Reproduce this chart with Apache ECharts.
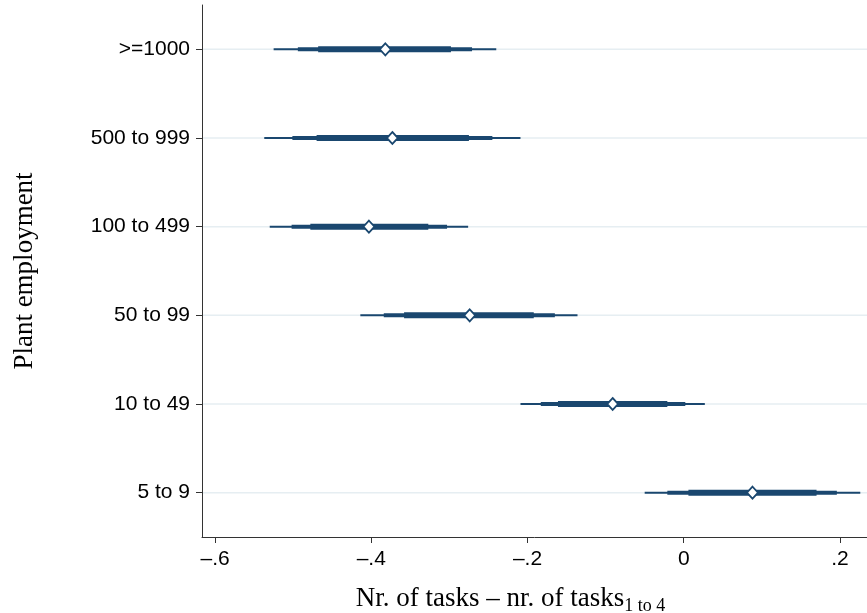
<!DOCTYPE html>
<html><head><meta charset="utf-8">
<script src="https://cdn.jsdelivr.net/npm/echarts@6/dist/echarts.min.js"></script>
<style>html,body{margin:0;padding:0;background:#fff}#c{width:867px;height:613px}</style>
</head><body><div id="c"></div>
<script>
// Categories, top to bottom
const categories = ['>=1000', '500 to 999', '100 to 499', '50 to 99', '10 to 49', '5 to 9'];
// Point estimates
const estimates = [-0.382, -0.373, -0.403, -0.274, -0.091, 0.088];
// Outer (thin) interval
const lo99 = [-0.525, -0.537, -0.530, -0.414, -0.209, -0.050];
const hi99 = [-0.240, -0.209, -0.276, -0.136, 0.027, 0.226];
// Middle interval
const lo95 = [-0.494, -0.501, -0.502, -0.384, -0.183, -0.021];
const hi95 = [-0.271, -0.245, -0.303, -0.165, 0.002, 0.196];
// Inner (thick) interval
const lo90 = [-0.468, -0.470, -0.478, -0.358, -0.161, 0.006];
const hi90 = [-0.298, -0.275, -0.327, -0.192, -0.021, 0.170];
// X tick values and labels
const xTicks = [-0.6, -0.4, -0.2, 0, 0.2];
const xTickLabels = ['–.6', '–.4', '–.2', '0', '.2'];

const NAVY = '#1a476f';
const AXIS = '#333333';

function rangeSeries(lo, hi, w, z) {
  return {
    type: 'custom',
    z: z,
    data: categories.map((c, i) => [lo[i], hi[i], i]),
    encode: { x: [0, 1], y: 2 },
    renderItem: function (params, api) {
      const a = api.coord([api.value(0), api.value(2)]);
      const b = api.coord([api.value(1), api.value(2)]);
      return { type: 'line', shape: { x1: a[0], y1: a[1], x2: b[0], y2: b[1] },
               style: { stroke: NAVY, lineWidth: w, lineCap: 'butt' } };
    }
  };
}

const gridSeries = {
  type: 'custom',
  z: 1,
  data: categories.map((c, i) => [0, i]),
  encode: { x: 0, y: 1 },
  renderItem: function (params, api) {
    const p = api.coord([api.value(0), api.value(1)]);
    const cs = params.coordSys;
    return { type: 'line', shape: { x1: cs.x + 1, y1: p[1], x2: cs.x + cs.width, y2: p[1] },
             style: { stroke: '#e6eef2', lineWidth: 1.5 } };
  }
};

const chart = echarts.init(document.getElementById('c'), null, { renderer: 'canvas' });
chart.setOption({
  animation: false,
  backgroundColor: '#ffffff',
  grid: { left: 202, right: 0, top: 5, bottom: 76, containLabel: false, outerBoundsMode: 'none' },
  xAxis: {
    type: 'value',
    min: -0.6167,
    max: 0.2346,
    splitLine: { show: false },
    axisLine: { show: true, onZero: false, lineStyle: { color: AXIS, width: 1 } },
    axisTick: { show: true, length: 6, lineStyle: { color: AXIS }, customValues: xTicks },
    axisLabel: {
      customValues: xTicks,
      formatter: function (v) {
        const i = xTicks.findIndex(t => Math.abs(t - v) < 1e-9);
        return i >= 0 ? xTickLabels[i] : '';
      },
      fontFamily: 'Liberation Sans, Arial, sans-serif', fontSize: 21, color: '#000', margin: 12
    },
    name: '{a|Nr. of tasks – nr. of tasks}{b|1 to 4}',
    nameLocation: 'middle',
    nameGap: 48,
    nameTextStyle: {
      padding: [0, 48, 0, 0],
      rich: {
        a: { fontFamily: 'Liberation Serif, Times New Roman, serif', fontSize: 27, color: '#000', verticalAlign: 'top', lineHeight: 29 },
        b: { fontFamily: 'Liberation Serif, Times New Roman, serif', fontSize: 18, color: '#000', verticalAlign: 'top', lineHeight: 20, padding: [12, 0, 0, 0] }
      }
    }
  },
  yAxis: {
    type: 'category',
    data: categories,
    inverse: true,
    boundaryGap: true,
    splitLine: { show: false },
    axisLine: { show: true, onZero: false, lineStyle: { color: AXIS, width: 1 } },
    axisTick: { show: true, alignWithLabel: true, length: 6, lineStyle: { color: AXIS } },
    axisLabel: { fontFamily: 'Liberation Sans, Arial, sans-serif', fontSize: 21, color: '#000', margin: 12 },
    name: 'Plant employment',
    nameLocation: 'middle',
    nameGap: 164,
    nameTextStyle: { fontFamily: 'Liberation Serif, Times New Roman, serif', fontSize: 27, color: '#000' }
  },
  series: [
    gridSeries,
    rangeSeries(lo99, hi99, 2, 2),
    rangeSeries(lo95, hi95, 4, 3),
    rangeSeries(lo90, hi90, 6, 4),
    {
      type: 'scatter',
      z: 10,
      data: estimates.map((v, i) => [v, i]),
      symbol: 'diamond',
      symbolSize: [11, 12],
      itemStyle: { color: '#ffffff', borderColor: NAVY, borderWidth: 1.8, opacity: 1 }
    }
  ]
});
</script>
</body></html>
